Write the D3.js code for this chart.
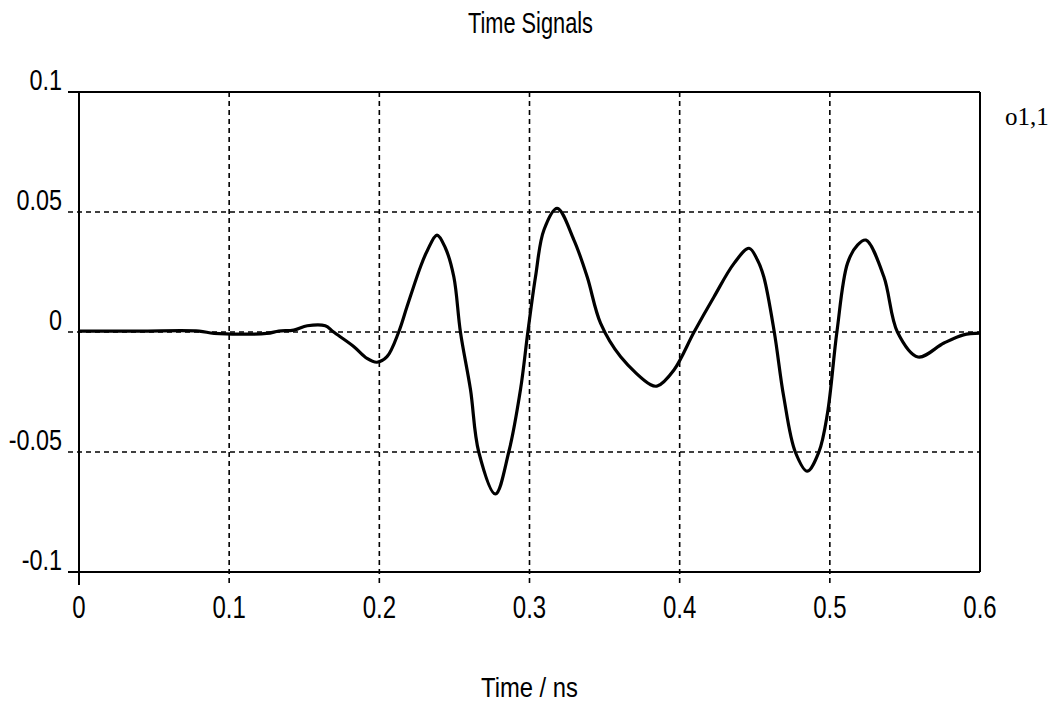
<!DOCTYPE html>
<html lang="en">
    <head>
        <meta charset="utf-8" />
        <title>Time Signals</title>
        <script src="https://cdn.jsdelivr.net/npm/d3@7"></script>
        <style type="text/css">
            body { margin: 0; background: #fff; }
            svg { display: block; }
            .lbl { font-family: "Liberation Sans", Arial, sans-serif; fill: #000; }
        </style>
    </head>
    <body>
        <script type="text/javascript">
            // signal values (time in ns)
            var timeNs = [0, 0.04, 0.08, 0.09, 0.125, 0.133, 0.143, 0.152, 0.164, 0.1693, 0.1829, 0.1918, 0.1984, 0.2051,
                0.2129, 0.2184, 0.2273, 0.232, 0.2384, 0.244, 0.2496, 0.254, 0.2607, 0.2662, 0.2773, 0.2862,
                0.294, 0.2989, 0.304, 0.3096, 0.3184, 0.3296, 0.3384, 0.3473, 0.3607, 0.3807, 0.3851, 0.3962, 0.4096,
                0.4229, 0.4362, 0.4462, 0.4518, 0.456, 0.463, 0.4693, 0.477, 0.485, 0.4927, 0.4984, 0.5047, 0.5118,
                0.5184, 0.524, 0.536, 0.545, 0.5587, 0.576, 0.589, 0.6];
            var amplitude = [0.0004, 0.0004, 0.0004, -0.0006, -0.0006, 0.0004, 0.0008, 0.0026, 0.0026, 0.0001, -0.006, -0.011, -0.0126, -0.0103,
                0, 0.0105, 0.027, 0.034, 0.0404, 0.035, 0.023, 0, -0.024, -0.05, -0.0675, -0.05,
                -0.024, 0, 0.023, 0.0425, 0.0515, 0.0383, 0.023, 0.0037, -0.0103, -0.022, -0.0225, -0.0158, 0,
                0.0147, 0.0286, 0.0349, 0.030, 0.023, 0, -0.027, -0.05, -0.058, -0.05, -0.034, 0, 0.0287,
                0.0362, 0.0383, 0.023, 0, -0.0104, -0.0046, -0.0012, -0.0005];
            var xTicks = [0, 0.1, 0.2, 0.3, 0.4, 0.5, 0.6];
            var yTicks = [-0.1, -0.05, 0, 0.05, 0.1];
            var xGrid = [0.1, 0.2, 0.3, 0.4, 0.5];
            var yGrid = [-0.05, 0, 0.05];

            var W = 1057, H = 711;
            var mLeft = 79, mRight = 980, mTop = 92, mBottom = 572;

            var svg = d3.select("body").append("svg")
                .attr("width", W)
                .attr("height", H);

            var x = d3.scaleLinear().domain([0, 0.6]).range([mLeft, mRight]);
            var y = d3.scaleLinear().domain([-0.1, 0.1]).range([mBottom, mTop]);

            // dashed grid, running past the frame as tick marks
            svg.selectAll("line.vgrid")
                .data(xGrid)
                .enter()
                .append("line")
                .attr("x1", function (d) { return x(d); })
                .attr("x2", function (d) { return x(d); })
                .attr("y1", mTop)
                .attr("y2", mBottom + 13)
                .attr("stroke", "#000")
                .attr("stroke-width", 1.6)
                .attr("stroke-dasharray", "5,4");

            svg.selectAll("line.hgrid")
                .data(yGrid)
                .enter()
                .append("line")
                .attr("x1", mLeft - 11)
                .attr("x2", mRight)
                .attr("y1", function (d) { return y(d); })
                .attr("y2", function (d) { return y(d); })
                .attr("stroke", "#000")
                .attr("stroke-width", 1.6)
                .attr("stroke-dasharray", "5,4");

            // frame
            var frame = [
                [mLeft - 11, mTop, mRight, mTop],
                [mRight, mTop, mRight, mBottom],
                [mLeft - 11, mBottom, mRight, mBottom],
                [mLeft, mTop, mLeft, mBottom + 13]
            ];
            svg.selectAll("line.frame")
                .data(frame)
                .enter()
                .append("line")
                .attr("x1", function (d) { return d[0]; })
                .attr("y1", function (d) { return d[1]; })
                .attr("x2", function (d) { return d[2]; })
                .attr("y2", function (d) { return d[3]; })
                .attr("stroke", "#000")
                .attr("stroke-width", 2);

            // signal
            var line = d3.line()
                .x(function (d, i) { return x(timeNs[i]); })
                .y(function (d) { return y(d); })
                .curve(d3.curveCatmullRom.alpha(0.5));

            svg.append("path")
                .datum(amplitude)
                .attr("d", line)
                .attr("fill", "none")
                .attr("stroke", "#000")
                .attr("stroke-width", 3.2)
                .attr("stroke-linejoin", "round");

            // narrow text helper
            function label(px, py, txt, size, sx, anchor) {
                svg.append("g")
                    .attr("transform", "translate(" + px + "," + py + ") scale(" + sx + ",1)")
                    .append("text")
                    .attr("class", "lbl")
                    .attr("text-anchor", anchor)
                    .style("font-size", size + "px")
                    .text(txt);
            }

            yTicks.forEach(function (d) {
                label(62, y(d) - 2, d === 0 ? "0" : String(d), 30, 0.78, "end");
            });
            xTicks.forEach(function (d) {
                label(x(d), 618, d === 0 ? "0" : String(d), 32, 0.75, "middle");
            });

            label((mLeft + mRight) / 2 + 1, 33, "Time Signals", 29, 0.75, "middle");
            label((mLeft + mRight) / 2, 697, "Time / ns", 28, 0.85, "middle");

            svg.append("text")
                .attr("x", 1005)
                .attr("y", 125)
                .style("font-family", "'Liberation Serif', serif")
                .style("font-size", "25px")
                .text("o1,1");
        </script>
    </body>
</html>
